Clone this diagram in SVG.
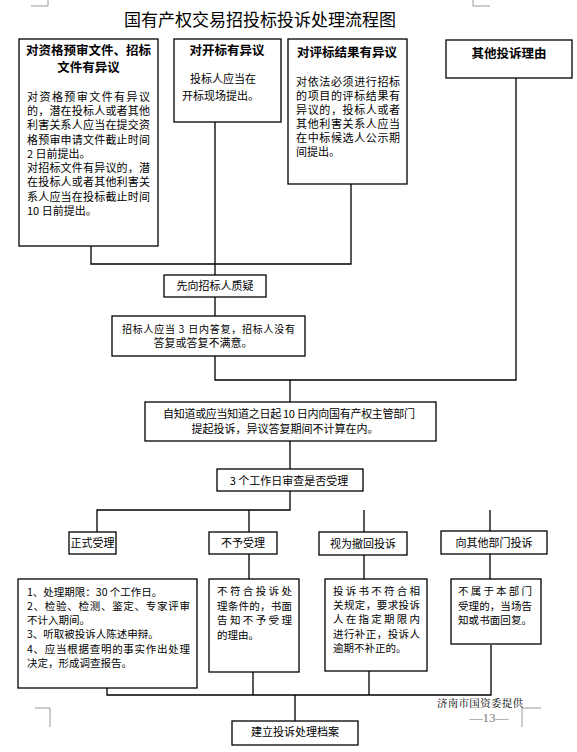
<svg xmlns="http://www.w3.org/2000/svg" width="577" height="752" viewBox="0 0 577 752">
<style>
.b{fill:#fff;stroke:#000;stroke-width:1.3}
.c{fill:none;stroke:#000;stroke-width:1.3}
.m{fill:none;stroke:#999;stroke-width:1}
text{font-family:"Noto Sans CJK SC","Noto Sans",sans-serif;fill:#000}
.t{font-size:17px;text-anchor:middle}
.h{font-size:12.5px;font-weight:bold;text-anchor:middle}
.s{font-size:11px}
.sm{font-size:11px;text-anchor:middle}
.r{font-size:10.5px}
</style>
<rect width="577" height="752" fill="#fff"/>
<g id="marks">
<path class="m" d="M31 6H48V0M490 6H473V0M522 727V708H541M35 708H50V727"/>
</g>
<text class="t" x="260" y="26">国有产权交易招投标投诉处理流程图</text>
<g id="connectors">
<path class="c" d="M91 246V264H351V184M215 122V275M215 297V316M215 356V380H516V78M290 380V402M290 441V469M290 491V510H97V532M249 510V532M364 510V532M490 510V531M249 554V579M364 555V579M490 554V579M107 688V695H491V645M253 672V695M369 671V695M295 695V721"/>
</g>
<g id="n1">
<rect class="b" x="19" y="39" width="139" height="207"/>
<text class="h" x="88.5" y="55">对资格预审文件、招标</text>
<text class="h" x="88.5" y="72">文件有异议</text>
<text class="s" x="27" y="101" textLength="123" lengthAdjust="spacing">对资格预审文件有异议</text>
<text class="s" x="27" y="115" textLength="123" lengthAdjust="spacing">的，潜在投标人或者其他</text>
<text class="s" x="27" y="129" textLength="123" lengthAdjust="spacing">利害关系人应当在提交资</text>
<text class="s" x="27" y="143.5" textLength="123" lengthAdjust="spacing">格预审申请文件截止时间</text>
<text class="s" x="27" y="158">2 日前提出。</text>
<text class="s" x="27" y="172" textLength="123" lengthAdjust="spacing">对招标文件有异议的，潜</text>
<text class="s" x="27" y="186" textLength="123" lengthAdjust="spacing">在投标人或者其他利害关</text>
<text class="s" x="27" y="200.5" textLength="123" lengthAdjust="spacing">系人应当在投标截止时间</text>
<text class="s" x="27" y="215">10 日前提出。</text>
</g>
<g id="n2">
<rect class="b" x="174" y="39" width="107" height="83"/>
<text class="h" x="227" y="55">对开标有异议</text>
<text class="s" x="190" y="83">投标人应当在</text>
<text class="s" x="182" y="100">开标现场提出。</text>
</g>
<g id="n3">
<rect class="b" x="288" y="39" width="119" height="145"/>
<text class="h" x="347" y="56.5">对评标结果有异议</text>
<text class="s" x="296" y="86" textLength="104" lengthAdjust="spacing">对依法必须进行招标</text>
<text class="s" x="296" y="100" textLength="104" lengthAdjust="spacing">的项目的评标结果有</text>
<text class="s" x="296" y="114" textLength="104" lengthAdjust="spacing">异议的，投标人或者</text>
<text class="s" x="296" y="128" textLength="104" lengthAdjust="spacing">其他利害关系人应当</text>
<text class="s" x="296" y="142" textLength="104" lengthAdjust="spacing">在中标候选人公示期</text>
<text class="s" x="296" y="156">间提出。</text>
</g>
<g id="n4">
<rect class="b" x="446" y="40" width="126" height="38"/>
<text class="h" x="509" y="57.5">其他投诉理由</text>
</g>
<g id="n5">
<rect class="b" x="164" y="275" width="102" height="22"/>
<text class="sm" x="215" y="290">先向招标人质疑</text>
</g>
<g id="n6">
<rect class="b" x="112" y="316" width="193" height="40"/>
<text x="122" y="332.5" style="font-size:10px" textLength="173" lengthAdjust="spacing">招标人应当 3 日内答复，招标人没有</text>
<text class="sm" x="203" y="346.5">答复或答复不满意。</text>
</g>
<g id="n7">
<rect class="b" x="145" y="402" width="291" height="39"/>
<text class="s" x="163" y="417.5" textLength="252" lengthAdjust="spacing">自知道或应当知道之日起 10 日内向国有产权主管部门</text>
<text class="sm" x="285" y="432.5">提起投诉，异议答复期间不计算在内。</text>
</g>
<g id="n8">
<rect class="b" x="217" y="469" width="146" height="22"/>
<text class="sm" x="289" y="485">3 个工作日审查是否受理</text>
</g>
<g id="n9">
<rect class="b" x="69" y="532" width="47" height="22"/>
<text class="sm" x="92.5" y="547">正式受理</text>
</g>
<g id="n10">
<rect class="b" x="209" y="532" width="68" height="22"/>
<text class="sm" x="243" y="547">不予受理</text>
</g>
<g id="n11">
<rect class="b" x="319" y="532" width="88" height="23"/>
<text class="sm" x="363" y="547.5">视为撤回投诉</text>
</g>
<g id="n12">
<rect class="b" x="441" y="531" width="106" height="23"/>
<text class="sm" x="494" y="546.5">向其他部门投诉</text>
</g>
<g id="n13">
<rect class="b" x="18" y="579" width="179" height="109"/>
<text class="r" x="27" y="596">1、处理期限：30 个工作日。</text>
<text class="r" x="27" y="610" textLength="163" lengthAdjust="spacing">2、检验、检测、鉴定、专家评审</text>
<text class="r" x="27" y="624">不计入期间。</text>
<text class="r" x="27" y="638">3、听取被投诉人陈述申辩。</text>
<text class="r" x="27" y="653" textLength="163" lengthAdjust="spacing">4、应当根据查明的事实作出处理</text>
<text class="r" x="27" y="667">决定，形成调查报告。</text>
</g>
<g id="n14">
<rect class="b" x="209" y="579" width="90" height="93"/>
<text class="r" x="217" y="595" textLength="75" lengthAdjust="spacing">不符合投诉处</text>
<text class="r" x="217" y="609.5" textLength="75" lengthAdjust="spacing">理条件的，书面</text>
<text class="r" x="217" y="624" textLength="75" lengthAdjust="spacing">告知不予受理</text>
<text class="r" x="217" y="639">的理由。</text>
</g>
<g id="n15">
<rect class="b" x="325" y="579" width="102" height="92"/>
<text class="r" x="333" y="595" textLength="87" lengthAdjust="spacing">投诉书不符合相</text>
<text class="r" x="333" y="609" textLength="87" lengthAdjust="spacing">关规定，要求投诉</text>
<text class="r" x="333" y="623" textLength="87" lengthAdjust="spacing">人在指定期限内</text>
<text class="r" x="333" y="637.5" textLength="87" lengthAdjust="spacing">进行补正，投诉人</text>
<text class="r" x="333" y="652">逾期不补正的。</text>
</g>
<g id="n16">
<rect class="b" x="451" y="579" width="90" height="65"/>
<text class="r" x="458" y="595" textLength="74" lengthAdjust="spacing">不属于本部门</text>
<text class="r" x="458" y="610" textLength="74" lengthAdjust="spacing">受理的，当场告</text>
<text class="r" x="458" y="623.5" textLength="74" lengthAdjust="spacing">知或书面回复。</text>
</g>
<g id="n17">
<rect class="b" x="232" y="721" width="126" height="24"/>
<text class="sm" x="295" y="736">建立投诉处理档案</text>
</g>
<text x="437" y="706.5" style="font-family:'Noto Serif CJK SC','Noto Sans CJK SC',serif;font-size:10.5px" textLength="86" lengthAdjust="spacing">济南市国资委提供</text>
<text x="489" y="722" style="font-family:'Liberation Serif',serif;font-size:13px;fill:#777;text-anchor:middle">—13—</text>
</svg>
